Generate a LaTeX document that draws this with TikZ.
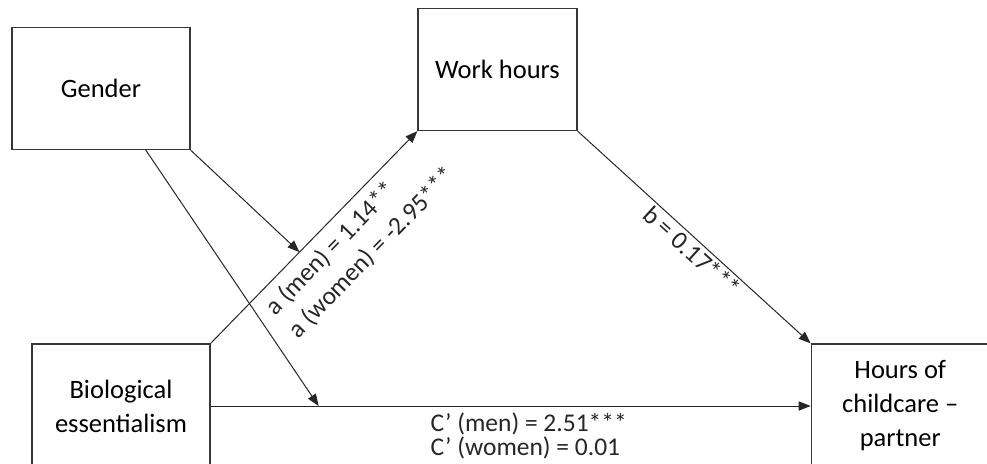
\documentclass[tikz,border=0pt]{standalone}
\usepackage{fontspec}
\setmainfont{Carlito}
\usetikzlibrary{arrows.meta,positioning,calc}
\definecolor{BoxLine}{RGB}{55,55,55}
\tikzset{
  var/.style={rectangle,draw=BoxLine,line width=0.65pt,minimum width=89pt,
              minimum height=61pt,align=center,inner sep=0pt,
              font=\fontsize{13.25}{17}\selectfont},
  eff/.style={-{Triangle[length=6pt,width=4.6pt]},line width=0.5pt,black!85},
  coef/.style={font=\fontsize{12.75}{13}\selectfont,align=left,inner sep=1.5pt},
}

\begin{document}
\begin{tikzpicture}[x=0.5pt,y=-0.5pt]
  \clip (0,0) rectangle (987,463);
  \node[var] (gender) at (101,88.5) {Gender};
  \node[var,minimum width=79.5pt] (work) at (497.5,69.5) {Work hours};
  \node[var,minimum height=62pt] (bio) at (121,406) {Biological\\essentialism};
  \node[var,minimum height=62pt,right=300pt of bio] (care) {Hours of\\childcare –\\partner};
  % paths a, b and c'
  \draw[eff] (bio.north east) -- coordinate[pos=0.43] (amod)
    node[coef,sloped,below,pos=0.6,inner sep=4.5pt,font=\fontsize{12.75}{15.9}\selectfont]
    {a (men) = 1.14**\\a (women) = -2.95***} (work.south west);
  \draw[eff] (work.south east) -- node[coef,sloped,below,pos=0.525,inner sep=1pt]
    {b = 0.17***} (care.north west);
  \draw[eff] (bio.east) -- coordinate[pos=0.18] (cmod)
    node[coef,below,pos=0.53,inner sep=3pt,font=\fontsize{12.75}{12}\selectfont]
    {C’ (men) = 2.51***\\C’ (women) = 0.01} (care.west);
  % moderation by gender
  \draw[eff] (gender.south east) -- (amod);
  \draw[eff] ($(gender.south)!0.5!(gender.south east)$) -- (cmod);
\end{tikzpicture}
\end{document}
